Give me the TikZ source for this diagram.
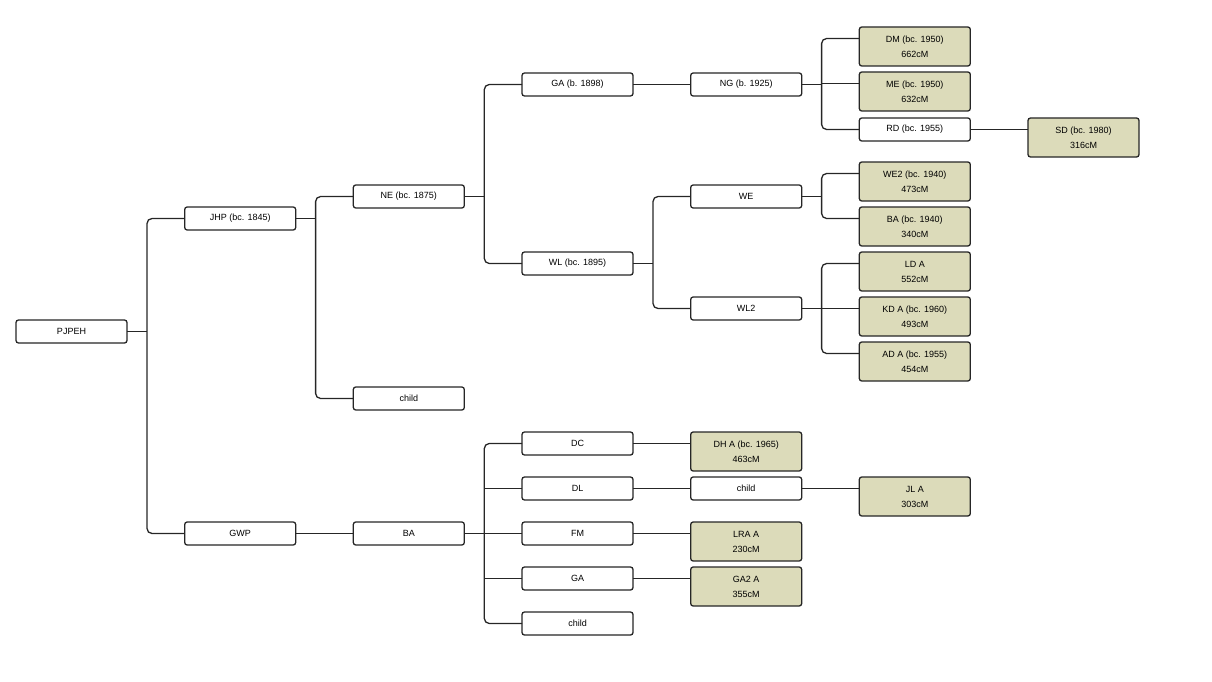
\documentclass[tikz,border=0pt]{standalone}
\usepackage{fontspec}
\setmainfont{Liberation Sans}
\usepackage{tikz}
\usetikzlibrary{positioning, calc}
\usepackage{xcolor}
\definecolor{treeline}{HTML}{262626}
\definecolor{matchfill}{HTML}{DCDBBA}

\begin{document}
\begin{tikzpicture}[x=1pt, y=-1pt,
    person/.style={draw=treeline, line width=1.3pt, rounded corners=2.5pt,
                   anchor=north west, minimum width=111pt, minimum height=23pt,
                   inner sep=0pt, outer sep=0pt, fill=white, align=center,
                   font=\fontsize{9}{15}\selectfont},
    match/.style={person, fill=matchfill, minimum height=39pt},
    link/.style={draw=treeline, line width=1.3pt},
    bus/.style={link, rounded corners=5pt}
  ]
    \useasboundingbox (0,0) rectangle (1212,682);

    % generations
    \node[person] (pjpeh) at (16, 320) {PJPEH};

    \node[person] (jhp) at (184.7, 207) {JHP (bc. 1845)};
    \node[person] (gwp) at (184.7, 522) {GWP};

    \node[person] (ne)     at (353.3, 185) {NE (bc. 1875)};
    \node[person] (childa) at (353.3, 387) {child};
    \node[person] (ba)     at (353.3, 522) {BA};

    \node[person] (ga)     at (522, 73)  {GA (b. 1898)};
    \node[person] (wl)     at (522, 252) {WL (bc. 1895)};
    \node[person] (dc)     at (522, 432) {DC};
    \node[person] (dl)     at (522, 477) {DL};
    \node[person] (fm)     at (522, 522) {FM};
    \node[person] (gab)    at (522, 567) {GA};
    \node[person] (childb) at (522, 612) {child};

    \node[person] (ng)     at (690.7, 73)  {NG (b. 1925)};
    \node[person] (we)     at (690.7, 185) {WE};
    \node[person] (wltwo)  at (690.7, 297) {WL2};
    \node[match]  (dha)    at (690.7, 432) {DH A (bc. 1965)\\463cM};
    \node[person] (childc) at (690.7, 477) {child};
    \node[match]  (lra)    at (690.7, 522) {LRA A\\230cM};
    \node[match]  (gatwo)  at (690.7, 567) {GA2 A\\355cM};

    \node[match]  (dm)    at (859.3, 27)  {DM (bc. 1950)\\662cM};
    \node[match]  (me)    at (859.3, 72)  {ME (bc. 1950)\\632cM};
    \node[person] (rd)    at (859.3, 118) {RD (bc. 1955)};
    \node[match]  (wetwo) at (859.3, 162) {WE2 (bc. 1940)\\473cM};
    \node[match]  (bab)   at (859.3, 207) {BA (bc. 1940)\\340cM};
    \node[match]  (lda)   at (859.3, 252) {LD A\\552cM};
    \node[match]  (kda)   at (859.3, 297) {KD A (bc. 1960)\\493cM};
    \node[match]  (ada)   at (859.3, 342) {AD A (bc. 1955)\\454cM};
    \node[match]  (jla)   at (859.3, 477) {JL A\\303cM};

    \node[match]  (sd) at (1028, 118) {SD (bc. 1980)\\316cM};

    % PJPEH
    \draw[link] (pjpeh.east) -- ++(20,0);
    \draw[bus] (jhp.west) -| ([xshift=-37.7pt]gwp.west) -- (gwp.west);

    % JHP
    \draw[link] (jhp.east) -- ++(20,0);
    \draw[bus] (ne.west) -| ([xshift=-37.7pt]childa.west) -- (childa.west);

    % GWP
    \draw[link] (gwp.east) -- (ba.west);

    % NE
    \draw[link] (ne.east) -- ++(20,0);
    \draw[bus] (ga.west) -| ([xshift=-37.7pt]wl.west) -- (wl.west);

    % BA
    \draw[link] (ba.east) -- ++(20,0);
    \draw[bus] (dc.west) -| ([xshift=-37.7pt]childb.west) -- (childb.west);
    \draw[link] (dl.west) -- ++(-37.7,0);
    \draw[link] (fm.west) -- ++(-37.7,0);
    \draw[link] (gab.west) -- ++(-37.7,0);

    \draw[link] (ga.east) -- (ng.west);
    \draw[link] (dc.east) -- ([yshift=-11.5pt]dha.north west);
    \draw[link] (dl.east) -- (childc.west);
    \draw[link] (childc.east) -- ([yshift=-11.5pt]jla.north west);
    \draw[link] (fm.east) -- ([yshift=-11.5pt]lra.north west);
    \draw[link] (gab.east) -- ([yshift=-11.5pt]gatwo.north west);

    % WL
    \draw[link] (wl.east) -- ++(20,0);
    \draw[bus] (we.west) -| ([xshift=-37.7pt]wltwo.west) -- (wltwo.west);

    % NG
    \draw[link] (ng.east) -- ++(20,0);
    \draw[bus] ([yshift=-11.5pt]dm.north west) -| ([xshift=-37.7pt]rd.west) -- (rd.west);
    \draw[link] ([yshift=-11.5pt]me.north west) -- ++(-37.7,0);
    \draw[link] (rd.east) -- ([yshift=-11.5pt]sd.north west);

    % WE
    \draw[link] (we.east) -- ++(20,0);
    \draw[bus] ([yshift=-11.5pt]wetwo.north west) -| ([xshift=-37.7pt,yshift=-11.5pt]bab.north west)
      -- ([yshift=-11.5pt]bab.north west);

    % WL2
    \draw[link] (wltwo.east) -- ++(20,0);
    \draw[bus] ([yshift=-11.5pt]lda.north west) -| ([xshift=-37.7pt,yshift=-11.5pt]ada.north west)
      -- ([yshift=-11.5pt]ada.north west);
    \draw[link] ([yshift=-11.5pt]kda.north west) -- ++(-37.7,0);
  \end{tikzpicture}
\end{document}
